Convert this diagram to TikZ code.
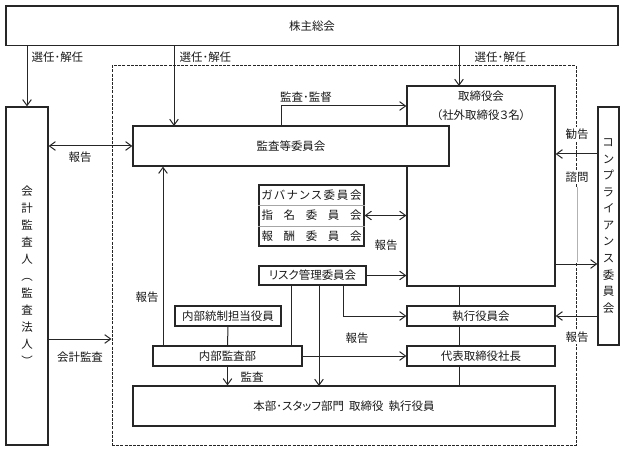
\documentclass[tikz,border=0pt]{standalone}
\usepackage{fontspec}
\setmainfont[RawFeature=+palt]{Noto Sans CJK JP}
\usetikzlibrary{arrows.meta,calc}
\begin{document}
\begin{tikzpicture}[x=0.75pt,y=-0.75pt,
  every node/.style={font=\fontsize{8.6}{10}\selectfont, text=black!90},
  box/.style={draw=black!85, line width=0.9pt, fill=white, inner sep=0pt},
  conn/.style={draw=black!85, line width=0.75pt},
  arr/.style={conn, -{Straight Barb[length=4.5pt,width=6.5pt]}},
  arrb/.style={conn, {Straight Barb[length=4.5pt,width=6.5pt]}-{Straight Barb[length=4.5pt,width=6.5pt]}},
  lbl/.style={inner sep=1pt},
  wlbl/.style={inner sep=1pt, fill=white},
  frame/.style={draw=black!85, line width=0.75pt, dash pattern=on 2.25pt off 0.9pt, inner sep=0pt},
]
\useasboundingbox (0,0) rectangle (624,452);

% dashed frame
\node[frame, minimum width=348pt, minimum height=284.25pt] (frame) at (344,255.5) {};

% boxes
\node[box, line width=1.1pt, minimum width=459pt, minimum height=29.6pt] (top) at (312,25.75) {株主総会};
\node[box, minimum width=31.5pt, minimum height=253.5pt, align=center,
      font=\fontsize{8.6}{12.75}\selectfont] (kaikei) at (27,276)
      {会\\計\\監\\査\\人\\︵\\監\\査\\法\\人\\︶};
\node[box, minimum width=111pt, minimum height=150pt] (torishimari) at (481,186) {};
\node[align=center, font=\fontsize{8.6}{14.3}\selectfont] (torishimari-t) at (481,106)
      {取締役会\\（社外取締役３名）};
\node[box, minimum width=237pt, minimum height=30pt] (kansa) at (291,146) {監査等委員会};

\node[box, minimum width=78.75pt, minimum height=45.75pt] (gov) at (311.5,215.5) {};
\draw[gray!70, line width=0.5pt] ($(gov.north west)!1/3!(gov.south west)$) -- ($(gov.north east)!1/3!(gov.south east)$);
\draw[gray!70, line width=0.5pt] ($(gov.north west)!2/3!(gov.south west)$) -- ($(gov.north east)!2/3!(gov.south east)$);
\node (gov-1) at ($(gov.north)!1/6!(gov.south)$) {\makebox[75pt]{ガ\hfill バ\hfill ナ\hfill ン\hfill ス\hfill 委\hfill 員\hfill 会}};
\node (gov-2) at ($(gov.north)!3/6!(gov.south)$) {\makebox[75pt]{指\hfill 名\hfill 委\hfill 員\hfill 会}};
\node (gov-3) at ($(gov.north)!5/6!(gov.south)$) {\makebox[75pt]{報\hfill 酬\hfill 委\hfill 員\hfill 会}};

\node[box, minimum width=80.25pt, minimum height=14.25pt] (risk) at (312.5,275.5) {リスク管理委員会};
\node[box, minimum width=111pt, minimum height=15pt] (shikkou) at (481,316) {執行役員会};
\node[box, minimum width=111pt, minimum height=15pt] (daihyo) at (481,356) {代表取締役社長};
\node[box, minimum width=316.5pt, minimum height=30pt] (honbu) at (344,406) {本部･スタッフ部門\hspace{0.45em}取締役\hspace{0.45em}執行役員};
\node[box, minimum width=111.75pt, minimum height=15pt] (naibu) at (227.5,356) {内部監査部};
\node[box, minimum width=79.5pt, minimum height=15pt] (tousei) at (228,316) {内部統制担当役員};
\node[box, minimum width=15.75pt, minimum height=178.5pt, align=center,
      font=\fontsize{8.6}{12.4}\selectfont] (comp) at (608.5,226)
      {コ\\ン\\プ\\ラ\\イ\\ア\\ン\\ス\\委\\員\\会};

% coordinates for connector ends
\coordinate (c2) at (174,126);
\coordinate (c3) at (459,86);
\coordinate (kk) at (281,106);
\coordinate (r1) at (291,346);
\coordinate (r2) at (319,386);
\coordinate (r3) at (343,316);
\coordinate (n1) at (163,346);
\coordinate (sp) at (459,0);
\coordinate (k1) at (0,154);
\coordinate (k2) at (0,264);
\coordinate (ka) at (0,339);

% connectors from shareholders
\draw[arr] (top.south -| kaikei.north) -- (kaikei.north);
\draw[arr] (top.south -| c2) -- (c2);
\draw[arr] (top.south -| c3) -- (c3);

% audit & supervise
\draw[arr] (kansa.north -| kk) -- (kk) -- (kk -| torishimari.west);
% report between auditors
\draw[arrb] (kaikei.east |- kansa.west) -- (kansa.west);
% accounting audit
\draw[arr] (kaikei.east |- ka) -- (frame.west |- ka);
% governance
\draw[arrb] (gov.east) -- (gov.east -| torishimari.west);
% risk
\draw[arr] (risk.east) -- (risk.east -| torishimari.west);
\draw[conn] (risk.south -| r1) -- (r1);
\draw[arr] (risk.south -| r2) -- (r2);
\draw[arr] (risk.south -| r3) -- (r3) -- (r3 -| shikkou.west);
% spine
\draw[conn] (torishimari.south -| sp) -- (shikkou.north -| sp);
\draw[conn] (shikkou.south -| sp) -- (daihyo.north -| sp);
\draw[conn] (daihyo.south -| sp) -- (honbu.north -| sp);
% internal audit
\draw[conn] (tousei.south) -- (naibu.north);
\draw[arr] (n1) -- (n1 |- kansa.south);
\draw[arr] (naibu.east) -- (naibu.east -| daihyo.west);
\draw[arr] (naibu.south) -- (naibu.south |- honbu.north);
% compliance
\draw[arr] (comp.west |- k1) -- (torishimari.east |- k1);
\draw[arr] (torishimari.east |- k2) -- (comp.west |- k2);
\draw[arr] (comp.west |- shikkou.east) -- (shikkou.east);

% labels
\node[lbl, anchor=west] (l-sel1) at (30,57) {選任･解任};
\node[lbl, anchor=west] (l-sel2) at (178,57) {選任･解任};
\node[lbl, anchor=west] (l-sel3) at (473,57) {選任･解任};
\node[lbl] (l-rep1) at (80,157) {報告};
\node[lbl] (l-kk) at (306,97) {監査･監督};
\node[lbl] (l-rep2) at (386,245) {報告};
\node[lbl] (l-rep3) at (147,297) {報告};
\node[lbl] (l-rep4) at (357,338) {報告};
\node[lbl] (l-audit) at (252,377) {監査};
\node[lbl] (l-acc) at (80,357) {会計監査};
\draw[white, line width=1.6pt] (577,187) -- (577,262);
\draw[gray!60, line width=0.4pt] (577,187) -- (577,262);
\node[wlbl] (l-kan) at (577,134) {勧告};
\node[wlbl] (l-shi) at (577,177) {諮問};
\node[wlbl] (l-rep5) at (577,337) {報告};
\end{tikzpicture}
\end{document}
